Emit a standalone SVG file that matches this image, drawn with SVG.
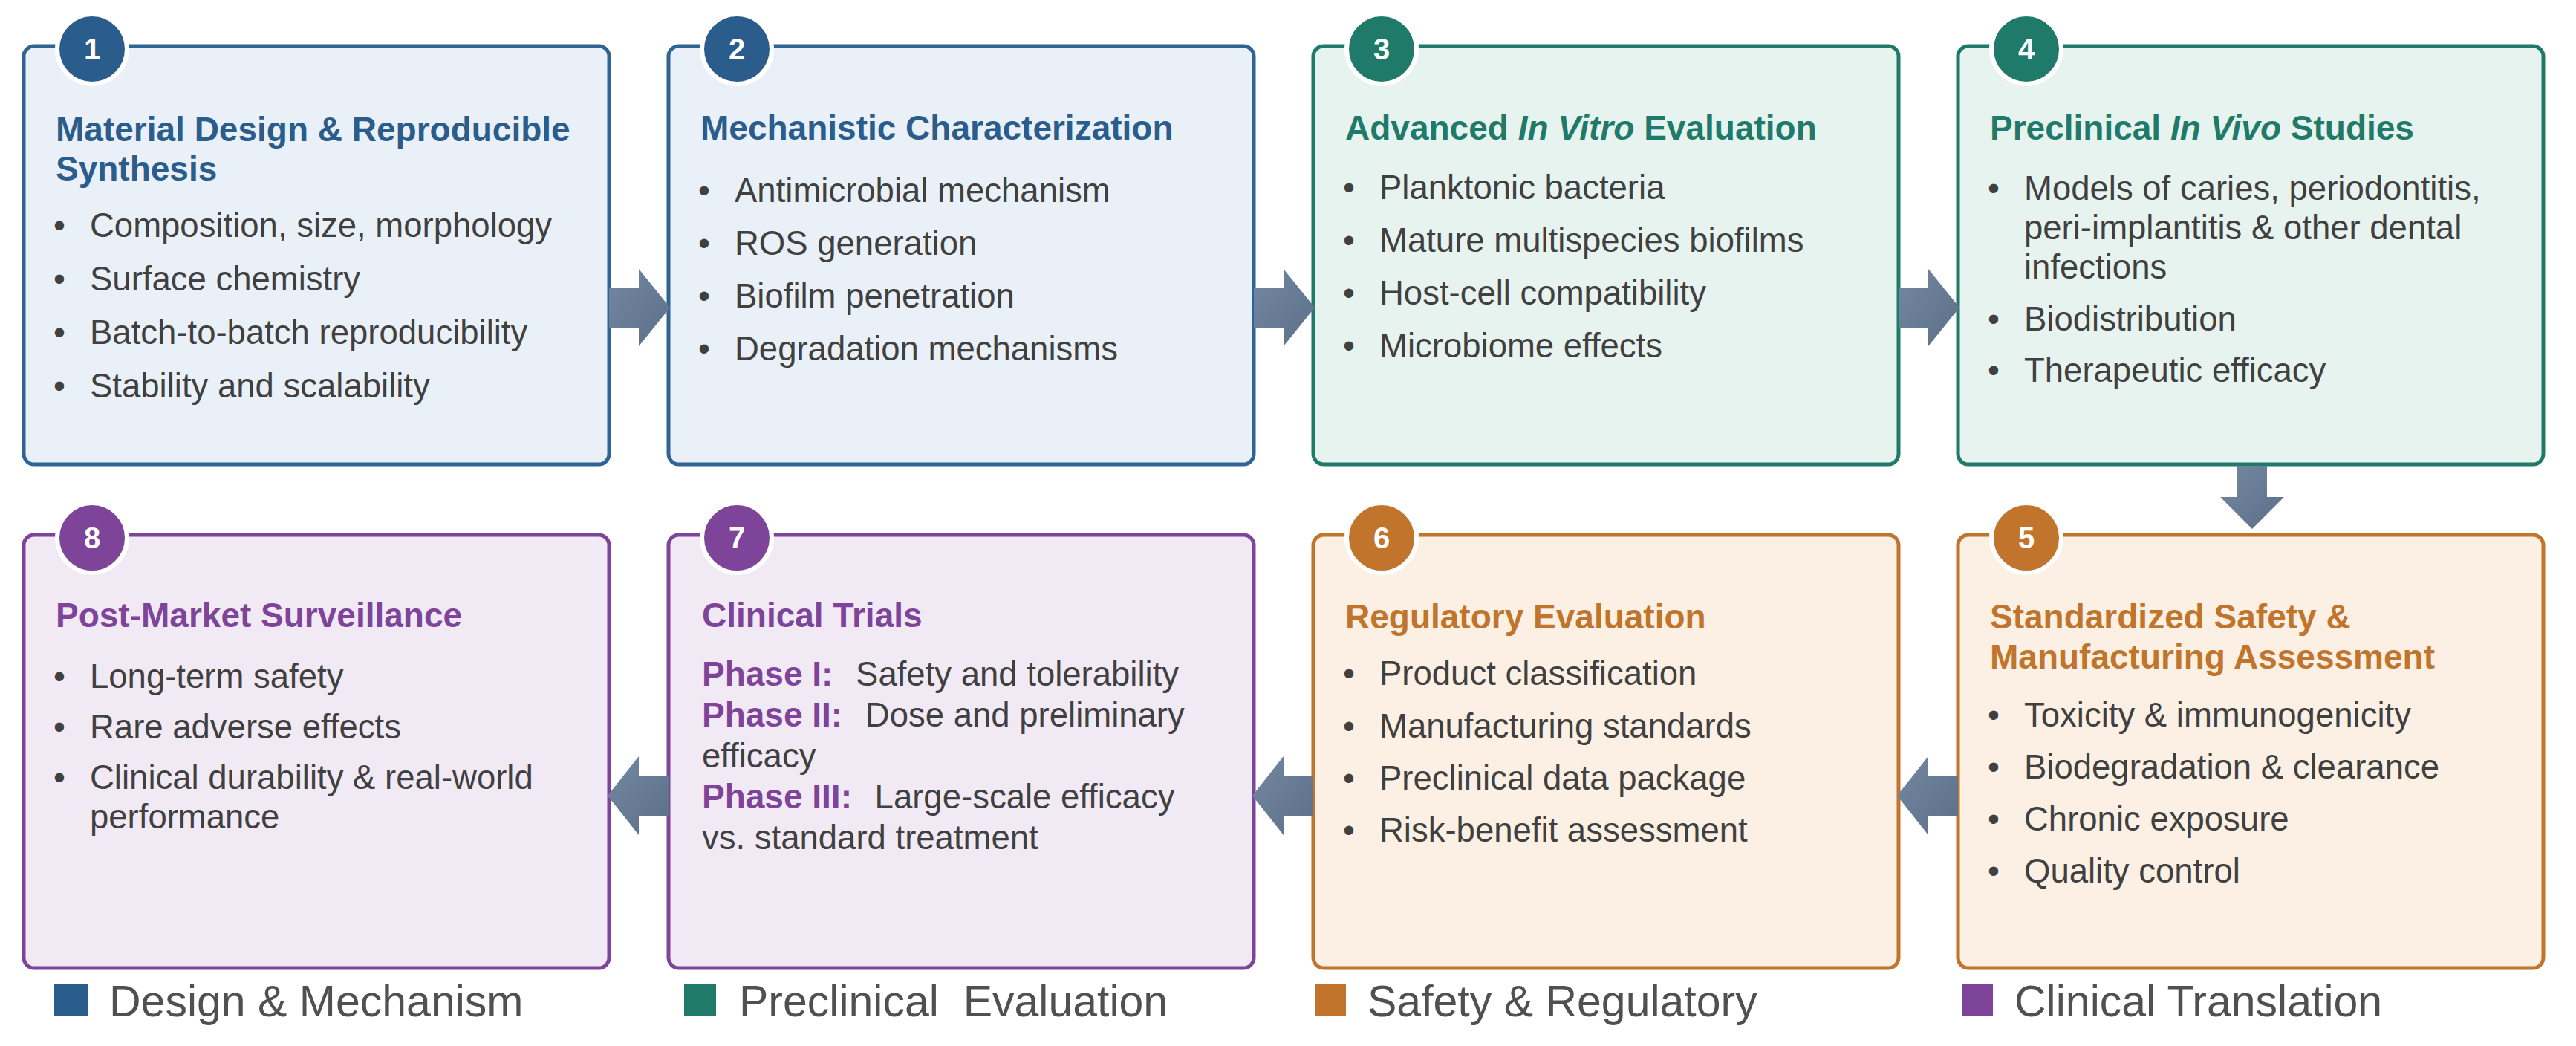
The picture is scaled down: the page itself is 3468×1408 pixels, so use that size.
<svg xmlns="http://www.w3.org/2000/svg" width="3468" height="1408" viewBox="0 0 3468 1408">
<style>
.box{stroke-width:5}
.t{font-family:"Liberation Sans",Arial,sans-serif;font-weight:bold;font-size:46px}
.b{font-family:"Liberation Sans",Arial,sans-serif;font-size:45.5px;fill:#404040}
.n{font-family:"Liberation Sans",Arial,sans-serif;font-weight:bold;font-size:40px;fill:#fff;text-anchor:middle}
.lg{font-family:"Liberation Sans",Arial,sans-serif;font-size:59px;fill:#505050}
.blue .box{fill:#eaf0f7;stroke:#2f6594}.blue .t{fill:#2b5d8c}.blue circle{fill:#2b5d8c}
.green .box{fill:#e7f3ef;stroke:#1f7a6a}.green .t{fill:#1f7a6a}.green circle{fill:#1f7a6a}
.orange .box{fill:#fbf0e3;stroke:#c0742c}.orange .t{fill:#c0742c}.orange circle{fill:#c0742c}
.purple .box{fill:#f1eaf5;stroke:#7e449a}.purple .t{fill:#7e449a}.purple circle{fill:#7e449a}
circle{stroke:#fff;stroke-width:6}
.arr{fill:url(#ag)}
</style>
<defs>
<linearGradient id="ag" x1="0" y1="0" x2="1" y2="1"><stop offset="0" stop-color="#7488a2"/><stop offset="1" stop-color="#5b6f89"/></linearGradient>
</defs>
<rect width="3468" height="1408" fill="#fff"/>

<g id="node1" class="blue">
<rect class="box" x="32" y="62" width="788" height="563" rx="14"/>
<circle cx="124" cy="66" r="47"/><text class="n" x="124" y="80">1</text>
<text class="t" x="75" y="190">Material Design &amp; Reproducible</text>
<text class="t" x="75" y="243">Synthesis</text>
<text class="b" x="72" y="319">•</text><text class="b" x="121" y="319">Composition, size, morphology</text>
<text class="b" x="72" y="391">•</text><text class="b" x="121" y="391">Surface chemistry</text>
<text class="b" x="72" y="463">•</text><text class="b" x="121" y="463">Batch-to-batch reproducibility</text>
<text class="b" x="72" y="535">•</text><text class="b" x="121" y="535">Stability and scalability</text>
</g>

<g id="node2" class="blue">
<rect class="box" x="900" y="62" width="788" height="563" rx="14"/>
<circle cx="992" cy="66" r="47"/><text class="n" x="992" y="80">2</text>
<text class="t" x="943" y="188">Mechanistic Characterization</text>
<text class="b" x="940" y="272">•</text><text class="b" x="989" y="272">Antimicrobial mechanism</text>
<text class="b" x="940" y="343">•</text><text class="b" x="989" y="343">ROS generation</text>
<text class="b" x="940" y="414">•</text><text class="b" x="989" y="414">Biofilm penetration</text>
<text class="b" x="940" y="485">•</text><text class="b" x="989" y="485">Degradation mechanisms</text>
</g>

<g id="node3" class="green">
<rect class="box" x="1768" y="62" width="788" height="563" rx="14"/>
<circle cx="1860" cy="66" r="47"/><text class="n" x="1860" y="80">3</text>
<text class="t" x="1811" y="188">Advanced <tspan font-style="italic">In Vitro</tspan> Evaluation</text>
<text class="b" x="1808" y="268">•</text><text class="b" x="1857" y="268">Planktonic bacteria</text>
<text class="b" x="1808" y="339">•</text><text class="b" x="1857" y="339">Mature multispecies biofilms</text>
<text class="b" x="1808" y="410">•</text><text class="b" x="1857" y="410">Host-cell compatibility</text>
<text class="b" x="1808" y="481">•</text><text class="b" x="1857" y="481">Microbiome effects</text>
</g>

<g id="node4" class="green">
<rect class="box" x="2636" y="62" width="788" height="563" rx="14"/>
<circle cx="2728" cy="66" r="47"/><text class="n" x="2728" y="80">4</text>
<text class="t" x="2679" y="188">Preclinical <tspan font-style="italic">In Vivo</tspan> Studies</text>
<text class="b" x="2676" y="269">•</text><text class="b" x="2725" y="269">Models of caries, periodontitis,</text>
<text class="b" x="2725" y="322">peri-implantitis &amp; other dental</text>
<text class="b" x="2725" y="375">infections</text>
<text class="b" x="2676" y="445">•</text><text class="b" x="2725" y="445">Biodistribution</text>
<text class="b" x="2676" y="514">•</text><text class="b" x="2725" y="514">Therapeutic efficacy</text>
</g>

<g id="node5" class="orange">
<rect class="box" x="2636" y="720" width="788" height="583" rx="14"/>
<circle cx="2728" cy="724" r="47"/><text class="n" x="2728" y="738">5</text>
<text class="t" x="2679" y="846">Standardized Safety &amp;</text>
<text class="t" x="2679" y="900">Manufacturing Assessment</text>
<text class="b" x="2676" y="978">•</text><text class="b" x="2725" y="978">Toxicity &amp; immunogenicity</text>
<text class="b" x="2676" y="1048">•</text><text class="b" x="2725" y="1048">Biodegradation &amp; clearance</text>
<text class="b" x="2676" y="1118">•</text><text class="b" x="2725" y="1118">Chronic exposure</text>
<text class="b" x="2676" y="1188">•</text><text class="b" x="2725" y="1188">Quality control</text>
</g>

<g id="node6" class="orange">
<rect class="box" x="1768" y="720" width="788" height="583" rx="14"/>
<circle cx="1860" cy="724" r="47"/><text class="n" x="1860" y="738">6</text>
<text class="t" x="1811" y="846">Regulatory Evaluation</text>
<text class="b" x="1808" y="922">•</text><text class="b" x="1857" y="922">Product classification</text>
<text class="b" x="1808" y="993">•</text><text class="b" x="1857" y="993">Manufacturing standards</text>
<text class="b" x="1808" y="1063">•</text><text class="b" x="1857" y="1063">Preclinical data package</text>
<text class="b" x="1808" y="1133">•</text><text class="b" x="1857" y="1133">Risk-benefit assessment</text>
</g>

<g id="node7" class="purple">
<rect class="box" x="900" y="720" width="788" height="583" rx="14"/>
<circle cx="992" cy="724" r="47"/><text class="n" x="992" y="738">7</text>
<text class="t" x="945" y="844">Clinical Trials</text>
<text class="b" x="945" y="923"><tspan class="t" fill="#7e449a">Phase I:</tspan><tspan dx="18"> Safety and tolerability</tspan></text>
<text class="b" x="945" y="978"><tspan class="t" fill="#7e449a">Phase II:</tspan><tspan dx="18"> Dose and preliminary</tspan></text>
<text class="b" x="945" y="1033">efficacy</text>
<text class="b" x="945" y="1088"><tspan class="t" fill="#7e449a">Phase III:</tspan><tspan dx="18"> Large-scale efficacy</tspan></text>
<text class="b" x="945" y="1143">vs. standard treatment</text>
</g>

<g id="node8" class="purple">
<rect class="box" x="32" y="720" width="788" height="583" rx="14"/>
<circle cx="124" cy="724" r="47"/><text class="n" x="124" y="738">8</text>
<text class="t" x="75" y="844">Post-Market Surveillance</text>
<text class="b" x="72" y="926">•</text><text class="b" x="121" y="926">Long-term safety</text>
<text class="b" x="72" y="994">•</text><text class="b" x="121" y="994">Rare adverse effects</text>
<text class="b" x="72" y="1062">•</text><text class="b" x="121" y="1062">Clinical durability &amp; real-world</text>
<text class="b" x="121" y="1115">performance</text>
</g>

<g id="connectors">
<path class="arr" d="M820,387 H860 V362 L902,414 L860,466 V441 H820 Z"/>
<path class="arr" d="M1688,387 H1728 V362 L1770,414 L1728,466 V441 H1688 Z"/>
<path class="arr" d="M2556,387 H2596 V362 L2638,414 L2596,466 V441 H2556 Z"/>
<path class="arr" d="M3012,627 H3052 V669 H3075 L3032,712 L2989,669 H3012 Z"/>
<path class="arr" d="M2636,1044 H2596 V1018 L2554,1071 L2596,1124 V1098 H2636 Z"/>
<path class="arr" d="M1768,1044 H1728 V1018 L1686,1071 L1728,1124 V1098 H1768 Z"/>
<path class="arr" d="M900,1044 H860 V1018 L818,1071 L860,1124 V1098 H900 Z"/>
</g>

<g id="legend">
<rect x="73" y="1325" width="45" height="42" fill="#2b5d8c"/><text class="lg" x="147" y="1368">Design &amp; Mechanism</text>
<rect x="921" y="1325" width="43" height="42" fill="#1f7a6a"/><text class="lg" x="995" y="1368" xml:space="preserve">Preclinical  Evaluation</text>
<rect x="1770" y="1325" width="42" height="42" fill="#c0742c"/><text class="lg" x="1841" y="1368">Safety &amp; Regulatory</text>
<rect x="2641" y="1325" width="42" height="42" fill="#7e449a"/><text class="lg" x="2712" y="1368">Clinical Translation</text>
</g>
</svg>
